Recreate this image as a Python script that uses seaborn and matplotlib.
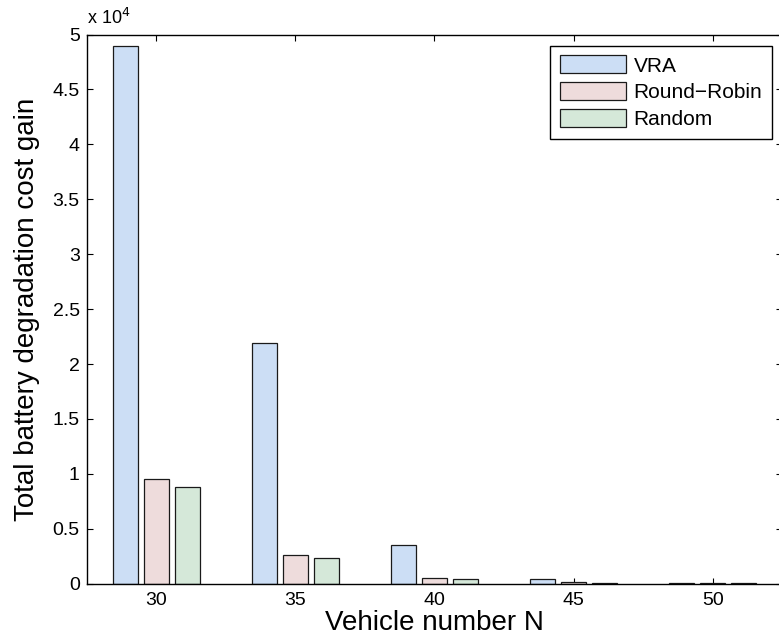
import matplotlib
matplotlib.use("Agg")
import matplotlib.pyplot as plt
from matplotlib.ticker import FuncFormatter, MultipleLocator
import pandas as pd
import seaborn as sns

# Vehicle counts and the cost gain of each allocation scheme
vehicle_numbers = [30, 35, 40, 45, 50]
vra_gain = [48950, 21950, 3550, 390, 80]
round_robin_gain = [9550, 2600, 550, 150, 60]
random_gain = [8790, 2300, 420, 100, 30]
methods = ["VRA", "Round\u2212Robin", "Random"]
colors = ["#CCDEF5", "#EEDCDC", "#D5E8D9"]

df = pd.DataFrame({
    "N": vehicle_numbers * 3,
    "gain": vra_gain + round_robin_gain + random_gain,
    "method": [m for m in methods for _ in vehicle_numbers],
})

sns.set_theme(style="white")
plt.rcParams["font.family"] = ["Liberation Sans", "DejaVu Sans"]
plt.rcParams["text.color"] = "black"

fig = plt.figure(figsize=(7.79, 6.36), dpi=100)
ax = fig.add_axes([0.1113, 0.0822, 0.8928, 0.8635])

sns.barplot(
    data=df, x="N", y="gain", hue="method", hue_order=methods,
    palette=colors, native_scale=True, width=0.668, gap=0.193,
    errorbar=None, edgecolor="#1a1a1a", linewidth=0.9, saturation=1,
    ax=ax,
)

ax.set_xlim(27.5, 52.5)
ax.set_ylim(0, 50000)
ax.set_xticks(vehicle_numbers)
ax.yaxis.set_major_locator(MultipleLocator(5000))
ax.yaxis.set_major_formatter(FuncFormatter(lambda v, _: f"{v / 1e4:g}"))

for side in ["left", "right", "top", "bottom"]:
    ax.spines[side].set_visible(True)
    ax.spines[side].set_color("black")
    ax.spines[side].set_linewidth(1.0)

ax.tick_params(axis="both", which="major", direction="in", length=4,
               width=0.8, color="black", labelsize=14, labelcolor="black",
               top=True, right=True, bottom=True, left=True)
ax.tick_params(axis="x", pad=6)
ax.tick_params(axis="y", pad=5)

ax.set_xlabel("Vehicle number N", fontsize=20, labelpad=1, color="black")
ax.set_ylabel("Total battery degradation cost gain", fontsize=20,
              labelpad=9, color="black")

ax.text(0.0, 1.012, "x 10$^{4}$", transform=ax.transAxes, fontsize=13,
        ha="left", va="bottom", color="black")

handles, labels = ax.get_legend_handles_labels()
leg = ax.legend(
    handles, labels, loc="upper right", bbox_to_anchor=(0.985, 0.979),
    fontsize=15, frameon=True, fancybox=False, shadow=False, framealpha=1,
    edgecolor="black", handlelength=3.2, handleheight=0.95,
    labelspacing=0.32, handletextpad=0.35, borderpad=0.45, borderaxespad=0,
    labelcolor="black",
)
leg.get_frame().set_linewidth(1.0)

fig.savefig("out.png", dpi=100)
